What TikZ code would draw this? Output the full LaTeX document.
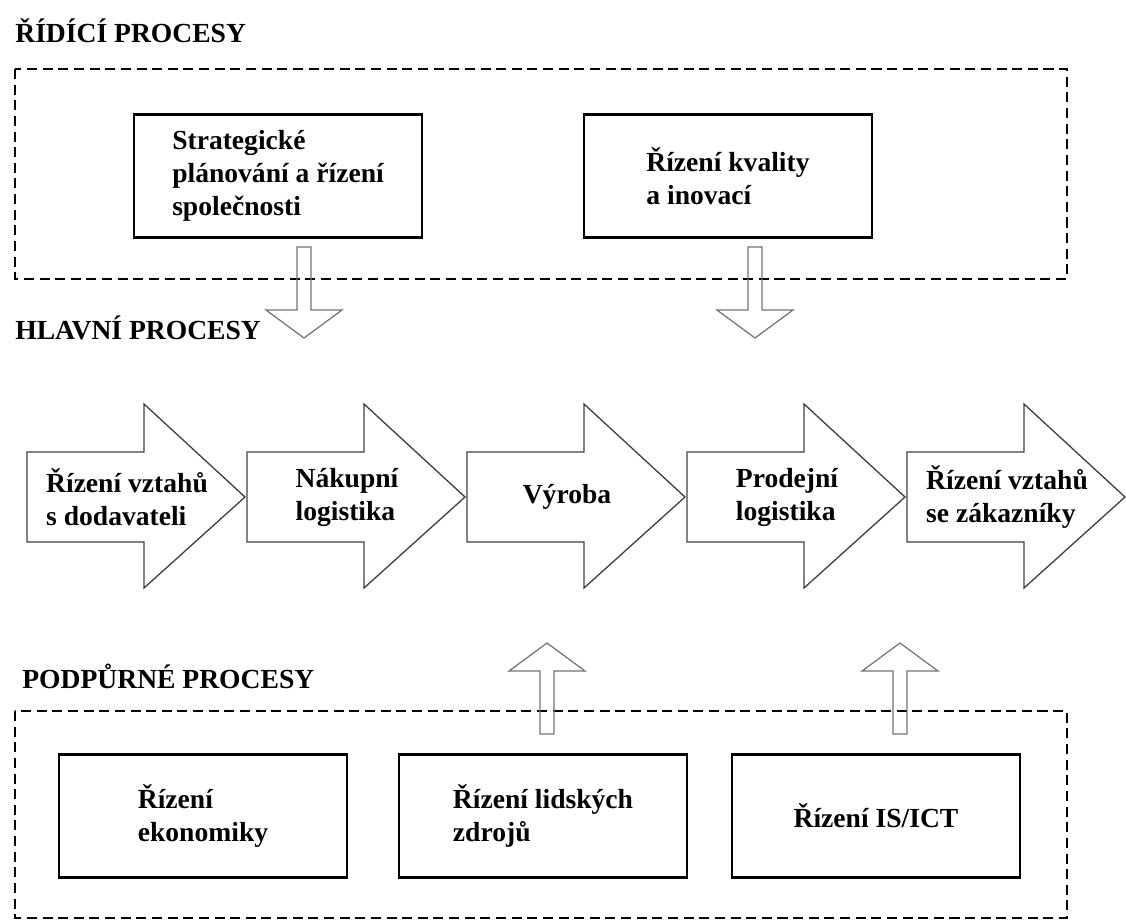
\documentclass[tikz,border=0pt]{standalone}
\usepackage{fontspec}
\setmainfont{Liberation Serif}
\usetikzlibrary{calc}

\newcommand{\blockarrow}[3]{%
  \draw[blockarr] ($(#1)+(-7,0)$) -- ($(#2)+(-7,{-28*(#3)})$) -- ($(#2)+(-38,{-28*(#3)})$)
    -- (#2) -- ($(#2)+(38,{-28*(#3)})$) -- ($(#2)+(7,{-28*(#3)})$) -- ($(#1)+(7,0)$) -- cycle;}

\begin{document}
\begin{tikzpicture}[
  x=0.02cm, y=-0.02cm,
  every node/.style={inner sep=0pt, font=\fontsize{15.7pt}{18.8pt}\selectfont\bfseries},
  heading/.style={anchor=base west},
  procbox/.style={draw, line width=1.25pt, minimum width=5.76cm, minimum height=2.46cm, align=left},
  groupframe/.style={draw, line width=1.4pt, dash pattern=on 5.7pt off 3.2pt},
  stage/.style={draw=black!75, line width=0.75pt},
  stagetext/.style={align=left},
  blockarr/.style={draw=black!55, line width=0.7pt}
]
\useasboundingbox (0,0) rectangle (1126,920);

\node[heading] (ridici) at (15,42) {ŘÍDÍCÍ PROCESY};
\draw[groupframe] (15,69) rectangle (1067,279);
\node[procbox] (strat) at (278,176) {Strategické\\plánování a řízení\\společnosti};
\node[procbox] (kvalita) at (728,176) {Řízení kvality\\a inovací};

\node[heading] (hlavni) at (15,339) {HLAVNÍ PROCESY};
\foreach \i/\txt in {0/{Řízení vztahů\\s dodavateli}, 1/{Nákupní\\logistika}, 2/{Výroba},
                     3/{Prodejní\\logistika}, 4/{Řízení vztahů\\se zákazníky}} {
  \pgfmathsetmacro\L{27+220*\i}
  \draw[stage] (\L,452) -- ({\L+117},452) -- ({\L+117},404) -- ({\L+218},497)
    -- ({\L+117},588) -- ({\L+117},542) -- (\L,542) -- cycle;
  \node[stagetext] (stage\i) at ({\L+100},497) {\txt};
}

\node[heading] (podpurne) at (22,688) {PODPŮRNÉ PROCESY};
\draw[groupframe] (15,711) rectangle (1067,918);
\node[procbox] (ekonomika) at (203,816) {Řízení\\ekonomiky};
\node[procbox] (lide) at (543,816) {Řízení lidských\\zdrojů};
\node[procbox] (ict) at (876,816) {Řízení IS/ICT};

\coordinate (d1) at (304,247); \coordinate (t1) at (304,338);
\coordinate (d2) at (755,247); \coordinate (t2) at (755,338);
\coordinate (u1) at (547,734); \coordinate (v1) at (547,643);
\coordinate (u2) at (900,734); \coordinate (v2) at (900,643);
\blockarrow{d1}{t1}{1}
\blockarrow{d2}{t2}{1}
\blockarrow{u1}{v1}{-1}
\blockarrow{u2}{v2}{-1}
\end{tikzpicture}
\end{document}
